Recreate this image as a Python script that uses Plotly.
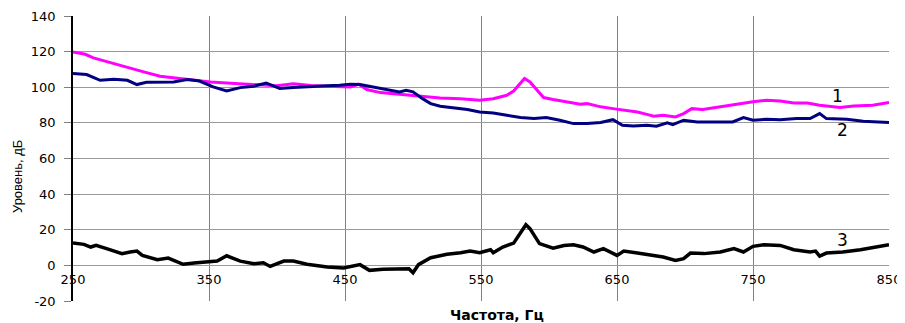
import plotly.graph_objects as go

# Series 1 (magenta)
freq_1 = [250, 259, 265, 277, 290, 302, 314, 326, 338, 351, 363, 375, 388, 400, 412, 425, 437, 446, 454, 460,
          466, 476, 485, 495, 505, 520, 535, 549, 559, 569, 574, 579, 582, 586, 591, 596, 603, 613, 623, 628,
          638, 647, 657, 665, 672, 677, 684, 693, 699, 705, 713, 726, 738, 750, 760, 770, 780, 790, 799, 814,
          824, 838, 850]
level_1 = [119.8, 118.5, 116.5, 113.9, 110.9, 108.6, 106.2, 105.2, 103.9, 103.0, 102.4, 101.9, 101.7, 100.8, 101.9, 101.0, 100.6, 100.2, 100.2, 101.7,
           98.7, 97.0, 96.4, 95.9, 94.9, 94.0, 93.6, 92.7, 93.6, 95.5, 97.9, 102.0, 104.9, 103.0, 98.7, 94.2, 93.1, 91.8, 90.4, 90.8,
           89.0, 88.0, 87.1, 86.1, 84.8, 83.7, 84.3, 83.3, 85.2, 88.0, 87.5, 89.0, 90.8, 91.8, 92.7, 92.3, 91.2, 91.2, 89.9, 88.6,
           89.5, 89.9, 91.4]

# Series 2 (navy)
freq_2 = [250, 260, 270, 280, 290, 297, 304, 314, 324, 334, 343, 353, 363, 373, 383, 392, 402, 412, 427, 437,
          446, 454, 461, 471, 481, 490, 495, 500, 507, 513, 520, 530, 540, 549, 559, 569, 579, 589, 598, 608,
          618, 628, 638, 647, 654, 662, 672, 679, 687, 691, 699, 709, 721, 735, 743, 750, 760, 770, 782, 792,
          799, 804, 819, 831, 850]
level_2 = [107.7, 107.1, 103.9, 104.5, 103.9, 101.5, 102.8, 102.8, 103.0, 104.3, 103.5, 100.2, 97.9, 99.8, 100.6, 102.4, 99.3, 99.8, 100.6, 100.9,
           101.1, 101.7, 101.5, 100.2, 98.7, 97.4, 98.3, 97.4, 93.6, 90.8, 89.3, 88.6, 87.5, 86.1, 85.6, 84.3, 83.0, 82.4, 83.0, 81.5,
           79.6, 79.6, 80.2, 81.8, 78.7, 78.3, 78.7, 78.1, 80.0, 79.0, 81.5, 80.5, 80.5, 80.5, 83.0, 81.5, 82.0, 81.8, 82.4, 82.4,
           85.2, 82.4, 82.0, 80.9, 80.2]

# Series 3 (black)
freq_3 = [250, 258, 263, 267, 277, 286, 292, 297, 301, 312, 320, 331, 339, 348, 356, 363, 373, 383, 390, 395,
          405, 412, 422, 437, 449, 461, 468, 478, 490, 497, 500, 504, 513, 525, 535, 542, 549, 557, 559, 566,
          574, 579, 583, 586, 593, 603, 611, 618, 625, 633, 640, 650, 655, 665, 677, 684, 693, 699, 704, 714,
          726, 736, 743, 750, 758, 770, 780, 792, 796, 799, 804, 816, 829, 841, 850]
level_3 = [12.5, 11.8, 10.3, 11.2, 8.8, 6.6, 7.5, 8.0, 5.6, 3.2, 4.1, 0.6, 1.3, 1.9, 2.4, 5.4, 2.4, 0.9, 1.5, -0.6,
           2.4, 2.4, 0.6, -0.9, -1.5, 0.4, -2.8, -2.2, -2.2, -1.9, -4.1, 0.4, 4.3, 6.2, 7.1, 8.0, 7.1, 8.8, 7.1, 10.3,
           12.5, 18.7, 22.8, 20.6, 12.2, 9.7, 11.2, 11.6, 10.3, 7.5, 9.4, 5.6, 8.0, 6.9, 5.6, 4.7, 2.8, 3.8, 6.9, 6.6,
           7.5, 9.4, 7.5, 10.7, 11.6, 11.2, 8.8, 7.5, 8.0, 5.2, 6.9, 7.5, 8.8, 10.3, 11.6]

x_ticks = [250, 350, 450, 550, 650, 750, 850]
y_ticks = [-20, 0, 20, 40, 60, 80, 100, 120, 140]

curve_labels = ["1", "2", "3"]
label_freq = [812, 816, 816]
label_level = [95, 76, 14]

x_title = "Частота, Гц"
y_title = "Уровень, дБ"

fig = go.Figure()
fig.add_trace(go.Scatter(x=freq_1, y=level_1, mode="lines",
                         line=dict(color="#ff00ff", width=3), showlegend=False))
fig.add_trace(go.Scatter(x=freq_2, y=level_2, mode="lines",
                         line=dict(color="#000080", width=3), showlegend=False))
fig.add_trace(go.Scatter(x=freq_3, y=level_3, mode="lines",
                         line=dict(color="#000000", width=3.5), showlegend=False))

for t, fx, fy in zip(curve_labels, label_freq, label_level):
    fig.add_annotation(x=fx, y=fy, text=t, showarrow=False,
                       font=dict(family="DejaVu Sans", size=17, color="black"))

fig.add_annotation(xref="paper", yref="paper", x=0.5196, y=-0.049,
                   xanchor="center", yanchor="middle",
                   text="<b>" + x_title + "</b>", showarrow=False,
                   font=dict(family="DejaVu Sans", size=14, color="black"))
fig.add_annotation(xref="paper", yref="paper", x=-0.0686, y=0.435, textangle=-90,
                   xanchor="center", yanchor="middle",
                   text=y_title, showarrow=False,
                   font=dict(family="Liberation Sans Narrow, Liberation Sans", size=13, color="black"))

# the page body adds an 8px offset, so the figure is 8px smaller on each axis
fig.update_layout(
    width=897, height=315,
    margin=dict(l=65, r=16, t=8, b=22, autoexpand=False),
    paper_bgcolor="white", plot_bgcolor="white",
    font=dict(family="DejaVu Sans", size=13, color="black"),
    xaxis=dict(range=[250, 850], tickvals=x_ticks, ticktext=[str(v) for v in x_ticks],
               showgrid=True, gridcolor="#808080", gridwidth=1, automargin=False,
               anchor="free", position=0.125, showline=False, zeroline=False,
               ticks="", ticklabelstandoff=5),
    yaxis=dict(range=[-20, 140], tickvals=y_ticks, ticktext=[str(v) for v in y_ticks],
               showgrid=True, gridcolor="#999999", gridwidth=1, automargin=False,
               showline=True, linecolor="black", linewidth=1.5,
               ticks="outside", ticklen=7, tickcolor="#808080",
               zeroline=False, ticklabelstandoff=6),
)

fig.write_html("out.html")
